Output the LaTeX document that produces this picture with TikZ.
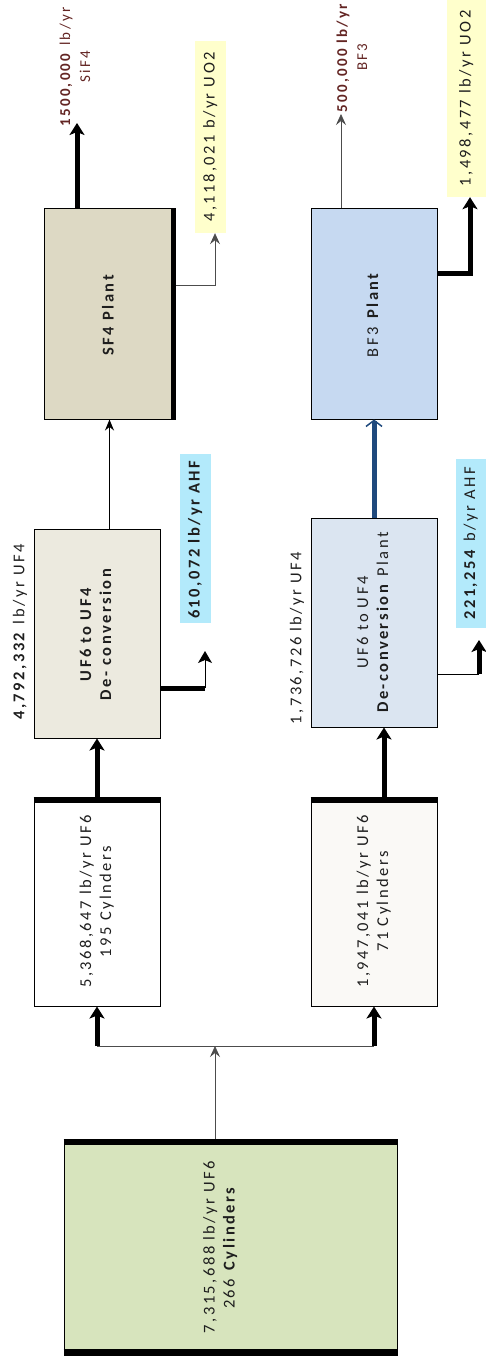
\documentclass[tikz,border=0pt]{standalone}
\usepackage{fontspec}
\setmainfont{Carlito}[LetterSpace=15]
\usepackage{graphicx}
\usetikzlibrary{arrows.meta,calc,positioning}

\definecolor{cylgreen}{HTML}{D7E4BD}
\definecolor{offwhite}{HTML}{FAF9F6}
\definecolor{deconvA}{HTML}{ECEADF}
\definecolor{deconvB}{HTML}{DBE5F1}
\definecolor{sfplant}{HTML}{DDD9C4}
\definecolor{bfplant}{HTML}{C6D9F1}
\definecolor{uoyellow}{HTML}{FFFFCC}
\definecolor{ahfcyan}{HTML}{B3EAFB}
\definecolor{prodred}{HTML}{632523}
\definecolor{navyflow}{HTML}{1F497D}
\definecolor{txt}{HTML}{1E1E1E}

% text running bottom to top
\newcommand{\vtext}[1]{\rotatebox{90}{\begin{tabular}{@{}c@{}}#1\end{tabular}}}

\begin{document}
\begin{tikzpicture}[
    x=1pt, y=-1pt,
    >=stealth,
    blk/.style   = {draw, line width=1pt, inner sep=0pt, text=txt,
                    minimum width=126pt, minimum height=209pt,
                    font=\fontsize{16.5}{20}\selectfont},
    tag/.style   = {inner sep=0pt, text=txt, font=\fontsize{16.5}{20}\selectfont},
    lbl/.style   = {rotate=90, align=center, inner sep=0pt, text=txt,
                    font=\fontsize{16.5}{20}\selectfont},
    bar/.style   = {line width=6pt},
    flow/.style  = {line width=5pt, -{Stealth[length=12pt,width=15pt,inset=3pt]}},
    feed/.style  = {line width=0.8pt, draw=black!70, -{Stealth[length=11pt,width=10pt,inset=4pt]}},
  ]
	\useasboundingbox (0,0) rectangle (486,1364);
	
	% Zylinderlager
	\node (cyl) at (230.5,1247) [blk, fill=cylgreen, minimum width=333pt, minimum height=216pt]
	  {\vtext{7,315,688 lb/yr UF6\\266 \textbf{Cylinders}}\hspace*{20pt}};
	\draw[bar] ([yshift=-3.5pt]cyl.north west) -- ([yshift=-3.5pt]cyl.north east);
	\draw[bar] ([yshift=3.5pt]cyl.south west) -- ([yshift=3.5pt]cyl.south east);
	
	% Aufteilung
	\node (b2) at (97,901.5) [blk, fill=white] {\vtext{5,368,647 lb/yr UF6\\195 Cylnders}};
	\node (b3) at (374,901.5) [blk, fill=offwhite] {\vtext{1,947,041 lb/yr UF6\\71 Cylnders}};
	\draw[bar] ([yshift=-3pt]b2.north west) -- ([yshift=-3pt]b2.north east);
	\draw[bar] ([yshift=-3pt]b3.north west) -- ([yshift=-3pt]b3.north east);
	
	% Konversion
	\node (b4) at (97,633.5) [blk, fill=deconvA] {\vtext{\textbf{UF6 to UF4}\\\textbf{De- conversion}}};
	\node (b5) at (374,622.5) [blk, fill=deconvB] {\vtext{UF6 to UF4\\\textbf{De-conversion} Plant}};
	
	% Anlagen
	\node (b6) at (109.5,314) [blk, fill=sfplant, minimum width=131pt, minimum height=210pt]
	  {\vtext{\textbf{SF4 Plant}}};
	\node (b7) at (374,314) [blk, fill=bfplant, minimum height=210pt] {\vtext{BF3 \textbf{Plant}}};
	\draw[line width=5pt] ([xshift=-2.5pt]b6.north east) -- ([xshift=-2.5pt]b6.south east);
	
	% Nebenprodukte
	\node (uo2a) at (210.5,137) [tag, fill=uoyellow, minimum width=31pt, minimum height=192pt]
	  {\vtext{4,118,021 b/yr UO2}};
	\node (uo2b) at (466.5,98.5) [tag, fill=uoyellow, minimum width=39pt, minimum height=197pt]
	  {\vtext{1,498,477 lb/yr UO2}};
	\node (ahfa) at (195.5,538.5) [tag, fill=ahfcyan, minimum width=31pt, minimum height=169pt]
	  {\vtext{\textbf{610,072 lb/yr AHF}}};
	\node (ahfb) at (471,543.5) [tag, fill=ahfcyan, minimum width=30pt, minimum height=169pt]
	  {\vtext{\textbf{221,254} b/yr AHF}};
	
	% Mengenangaben
	\node (uf4a) at (20,632) [lbl] {\textbf{4,792,332} lb/yr UF4};
	\node (uf4b) at (297,638) [lbl] {1,736,726 lb/yr UF4};
	\node (siflab) at (75,67) [lbl, text=prodred, font=\fontsize{15}{20}\selectfont]
	  {\textbf{1500,000} lb/yr\\SiF4};
	\node (bflab) at (352,57) [lbl, text=prodred, font=\fontsize{15}{20}\selectfont]
	  {\textbf{500,000 lb/yr}\\BF3};
	
	% Verzweigung
	\coordinate (split) at (215,1046);
	\draw[feed] (cyl.north -| split) -- (split);
	\draw[line width=0.8pt, black!70] (split -| b2.south) -- (split -| b3.south);
	\draw[flow] (split -| b2.south) -- (b2.south);
	\draw[flow] (split -| b3.south) -- (b3.south);
	
	% Hauptstrom
	\draw[flow] (b2.north) -- (b4.south);
	\draw[flow] ([xshift=10pt]b3.north) -- ([xshift=10pt]b5.south);
	\draw[line width=1pt, -{Stealth[length=11pt,width=9pt]}] (b4.north -| b6.south) -- (b6.south);
	\draw[line width=5pt, navyflow, -{Straight Barb[length=6pt,width=16pt,line width=1.5pt]}]
	  (b5.north) -- (b7.south);
	
	% Produkte
	\coordinate (sifout) at (77,123);
	\coordinate (bfout) at (341,114);
	\draw[flow] (b6.north -| sifout) -- (sifout);
	\draw[feed] (b7.north -| bfout) -- (bfout);
	
	% UO2
	\draw[feed] ([yshift=29pt]b6.east) -| ([xshift=4.5pt]uo2a.south);
	\draw[flow] ([yshift=41pt]b7.east) -| ([xshift=3.5pt]uo2b.south);
	
	% AHF
	\coordinate (ahfaout) at (205,651);
	\coordinate (ahfbout) at (479,640);
	\draw[line width=5pt] ([yshift=-54.5pt]b4.east) -- ([yshift=-54.5pt]b4.east -| ahfaout) coordinate (ka);
	\draw[line width=1pt, -{Stealth[length=12pt,width=14pt,inset=3pt]}] (ka) -- (ahfaout);
	\draw[line width=1pt] ([yshift=-51.5pt]b5.east) -- ([yshift=-51.5pt]b5.east -| ahfbout) coordinate (kb);
	\draw[flow] (kb) -- (ahfbout);
	
\end{tikzpicture}
\end{document}
